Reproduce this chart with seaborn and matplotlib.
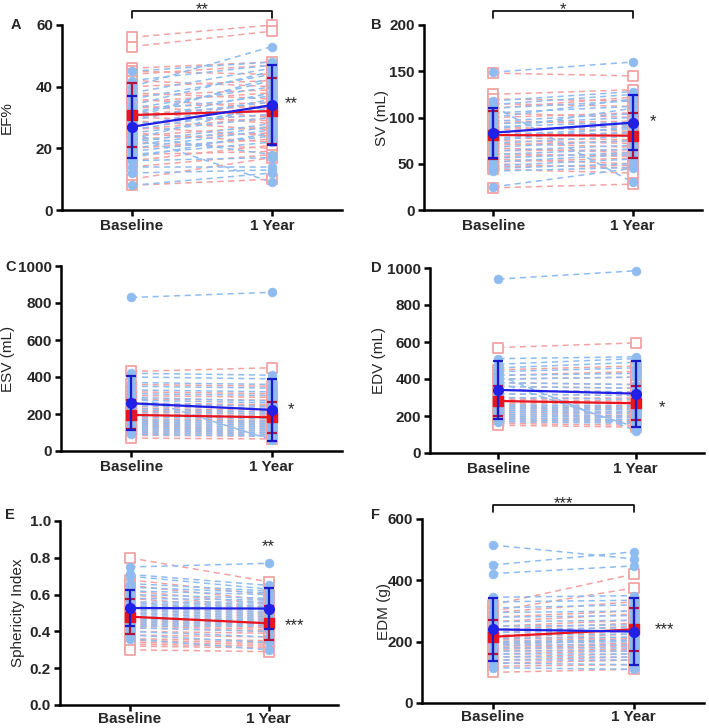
import numpy as np
import pandas as pd
import matplotlib
matplotlib.use("Agg")
import matplotlib.pyplot as plt
import matplotlib.transforms as mtransforms
import seaborn as sns

# ---------------- data ----------------
timepoints = ["Baseline", "1 Year"]

# Panel A: EF%
red_base_A = [56, 53, 46, 45, 44, 42, 40, 38, 37, 36, 35, 34, 33, 32, 31, 30, 29, 28, 27, 26, 25, 24, 23, 22, 20, 18, 16, 14, 10, 8]
red_1y_A = [60, 58, 48, 44, 47, 40, 42, 36, 39, 33, 38, 30, 35, 28, 34, 29, 26, 31, 24, 30, 22, 27, 25, 20, 23, 19, 21, 18, 17, 10]
blue_base_A = [45, 42, 40, 38, 36, 34, 33, 32, 31, 30, 29, 28, 27, 26, 25, 24, 23, 22, 21, 20, 19, 18, 17, 16, 14, 12, 8, 24, 30]
blue_1y_A = [48, 47, 53, 46, 44, 45, 40, 37, 42, 35, 38, 31, 36, 33, 30, 9, 34, 28, 27, 26, 24, 22, 25, 17, 14, 13, 12, 18, 43]
red_mean_A, red_sd_A = [30.8, 32.1], [10.5, 10.6]
blue_mean_A, blue_sd_A = [27.0, 34.0], [10.0, 12.9]

# Panel B: SV (mL)
red_base_B = [148, 125, 120, 115, 110, 105, 100, 97, 94, 90, 87, 84, 81, 78, 75, 72, 70, 67, 64, 61, 58, 55, 52, 50, 47, 44, 24]
red_1y_B = [145, 130, 118, 112, 122, 100, 105, 92, 96, 85, 90, 80, 83, 76, 72, 68, 75, 62, 65, 58, 60, 50, 56, 45, 48, 40, 28]
blue_base_B = [149, 118, 114, 110, 105, 100, 96, 93, 90, 87, 84, 81, 78, 75, 72, 68, 64, 60, 56, 52, 48, 45, 42, 25, 112]
blue_1y_B = [160, 128, 125, 118, 112, 120, 104, 100, 95, 110, 92, 88, 84, 90, 80, 75, 70, 66, 62, 60, 55, 50, 46, 45, 30]
red_mean_B, red_sd_B = [81.0, 80.4], [26.0, 24.0]
blue_mean_B, blue_sd_B = [83.6, 94.4], [27.0, 29.5]

# Panel C: ESV (mL)
red_base_C = [430, 360, 320, 300, 280, 260, 250, 240, 230, 220, 210, 200, 195, 185, 175, 165, 155, 145, 135, 125, 115, 105, 95, 85, 70]
red_1y_C = [450, 350, 310, 290, 275, 250, 245, 230, 220, 210, 200, 190, 185, 175, 165, 160, 150, 140, 130, 120, 110, 100, 90, 80, 65]
blue_base_C = [830, 420, 400, 370, 350, 330, 310, 290, 275, 260, 245, 230, 215, 200, 185, 170, 160, 150, 140, 130, 120, 110, 100, 90, 300]
blue_1y_C = [858, 410, 390, 360, 340, 320, 300, 270, 260, 240, 230, 210, 200, 185, 175, 160, 150, 140, 130, 120, 110, 100, 90, 80, 60]
red_mean_C, red_sd_C = [195, 182], [78, 83]
blue_mean_C, blue_sd_C = [258, 222], [146, 167]

# Panel D: EDV (mL)
red_base_D = [570, 450, 420, 400, 380, 360, 340, 320, 300, 290, 280, 270, 260, 250, 240, 230, 220, 210, 200, 190, 180, 170, 160, 150]
red_1y_D = [595, 470, 440, 410, 370, 350, 330, 310, 300, 280, 270, 265, 250, 240, 235, 220, 210, 200, 195, 180, 175, 165, 150, 140]
blue_base_D = [940, 510, 480, 460, 440, 420, 400, 380, 360, 340, 320, 300, 280, 260, 250, 240, 230, 220, 210, 200, 190, 180, 170, 420, 380]
blue_1y_D = [985, 520, 510, 490, 460, 430, 410, 370, 350, 330, 310, 290, 270, 255, 245, 235, 225, 215, 200, 190, 180, 170, 160, 120, 140]
red_mean_D, red_sd_D = [281, 269], [81, 92]
blue_mean_D, blue_sd_D = [341, 321], [157, 178]

# Panel E: Sphericity Index
red_base_E = [0.80, 0.68, 0.65, 0.62, 0.60, 0.58, 0.56, 0.54, 0.52, 0.50, 0.48, 0.47, 0.46, 0.45, 0.44, 0.43, 0.42, 0.40, 0.38, 0.36, 0.35, 0.34, 0.33, 0.32, 0.30]
red_1y_E = [0.67, 0.60, 0.57, 0.55, 0.53, 0.52, 0.50, 0.49, 0.48, 0.47, 0.46, 0.45, 0.44, 0.43, 0.42, 0.41, 0.40, 0.39, 0.37, 0.35, 0.34, 0.33, 0.32, 0.31, 0.29]
blue_base_E = [0.75, 0.71, 0.70, 0.66, 0.64, 0.62, 0.60, 0.58, 0.56, 0.55, 0.54, 0.53, 0.52, 0.51, 0.50, 0.49, 0.48, 0.47, 0.46, 0.45, 0.44, 0.43, 0.42, 0.40, 0.38, 0.36]
blue_1y_E = [0.77, 0.65, 0.63, 0.62, 0.61, 0.60, 0.58, 0.57, 0.56, 0.55, 0.54, 0.53, 0.52, 0.51, 0.50, 0.49, 0.48, 0.47, 0.46, 0.45, 0.44, 0.43, 0.40, 0.37, 0.34, 0.30]
red_mean_E, red_sd_E = [0.480, 0.444], [0.094, 0.093]
blue_mean_E, blue_sd_E = [0.527, 0.524], [0.100, 0.112]

# Panel F: EDM (g)
red_base_F = [320, 300, 295, 280, 265, 250, 240, 230, 220, 210, 205, 200, 195, 190, 185, 180, 175, 170, 160, 150, 140, 130, 120, 100]
red_1y_F = [420, 375, 330, 300, 290, 270, 260, 250, 240, 235, 225, 215, 210, 205, 195, 190, 185, 175, 170, 160, 150, 140, 125, 110]
blue_base_F = [515, 450, 422, 345, 330, 310, 295, 280, 265, 250, 240, 230, 220, 210, 200, 195, 190, 180, 170, 160, 150, 140, 130, 115]
blue_1y_F = [470, 493, 447, 350, 335, 320, 300, 285, 270, 255, 245, 235, 225, 215, 205, 200, 190, 180, 170, 160, 150, 140, 125, 110]
red_mean_F, red_sd_F = [216, 240], [56, 70]
blue_mean_F, blue_sd_F = [240, 233], [104, 108]

panel_letters = ["A", "B", "C", "D", "E", "F"]
y_labels = ["EF%", "SV (mL)", "ESV (mL)", "EDV (mL)", "Sphericity Index", "EDM (g)"]
y_ticks = [[0, 20, 40, 60], [0, 50, 100, 150, 200], [0, 200, 400, 600, 800, 1000],
           [0, 200, 400, 600, 800, 1000], [0.0, 0.2, 0.4, 0.6, 0.8, 1.0], [0, 200, 400, 600]]
y_tick_labels = [["0", "20", "40", "60"], ["0", "50", "100", "150", "200"],
                 ["0", "200", "400", "600", "800", "1000"], ["0", "200", "400", "600", "800", "1000"],
                 ["0.0", "0.2", "0.4", "0.6", "0.8", "1.0"], ["0", "200", "400", "600"]]
bracket_text = ["**", "*", None, None, None, "***"]
side_marks = [[("**", 1.14, 34.5)], [("*", 1.15, 96)], [("*", 1.14, 222)], [("*", 1.19, 243)],
              [("**", 1.0, 0.86), ("***", 1.19, 0.43)], [("***", 1.22, 240)]]

# ---------------- style ----------------
sns.set_style("ticks")
plt.rcParams["font.family"] = ["Liberation Sans", "DejaVu Sans"]

PINK = "#F3A2A4"
LBLUE = "#8FBCF0"
RED = "#E8141E"
RED_ERR = "#B0143C"
BLUE = "#2020E6"
BLUE_ERR = "#1A1AC8"

W, H = 709, 728
fig = plt.figure(figsize=(W / 100, H / 100), dpi=100)

# axes boxes in pixels: left, top, right, bottom
boxes = [(62, 25, 342, 210), (424, 25, 702, 210), (61, 266, 342, 451),
         (430, 268, 704, 453), (60, 521, 338, 705), (422, 519, 704, 703)]
# x position (axes fraction) of the right edge of each rotated y label
ylabel_x = [-0.171, -0.126, -0.164, -0.161, -0.126, -0.11]
letter_pos = [(16, 25), (376, 25), (11, 267), (376, 268), (10, 515), (376, 515)]
xtick_pad = [2, 2, 2, 2, 0.3, 0.3]

groups = {
    "A": (red_base_A, red_1y_A, blue_base_A, blue_1y_A, red_mean_A, red_sd_A, blue_mean_A, blue_sd_A),
    "B": (red_base_B, red_1y_B, blue_base_B, blue_1y_B, red_mean_B, red_sd_B, blue_mean_B, blue_sd_B),
    "C": (red_base_C, red_1y_C, blue_base_C, blue_1y_C, red_mean_C, red_sd_C, blue_mean_C, blue_sd_C),
    "D": (red_base_D, red_1y_D, blue_base_D, blue_1y_D, red_mean_D, red_sd_D, blue_mean_D, blue_sd_D),
    "E": (red_base_E, red_1y_E, blue_base_E, blue_1y_E, red_mean_E, red_sd_E, blue_mean_E, blue_sd_E),
    "F": (red_base_F, red_1y_F, blue_base_F, blue_1y_F, red_mean_F, red_sd_F, blue_mean_F, blue_sd_F),
}


def long_df(base, one):
    n = len(base)
    return pd.DataFrame({
        "sid": list(range(n)) * 2,
        "t": [0] * n + [1] * n,
        "v": list(base) + list(one),
    })


for i, key in enumerate(panel_letters):
    l, t, r, b = boxes[i]
    ax = fig.add_axes([l / W, 1 - b / H, (r - l) / W, (b - t) / H])
    rb, r1, bb, b1, rm, rs, bm, bs = groups[key]
    dred = long_df(rb, r1)
    dblue = long_df(bb, b1)

    sns.lineplot(data=dred, x="t", y="v", units="sid", estimator=None, color=PINK,
                 linewidth=1.1, linestyle=(0, (4, 3)), ax=ax, legend=False, zorder=1)
    sns.lineplot(data=dblue, x="t", y="v", units="sid", estimator=None, color=LBLUE,
                 linewidth=1.1, linestyle=(0, (4, 3)), ax=ax, legend=False, zorder=1)
    sns.scatterplot(data=dred, x="t", y="v", marker="s", s=42, color="white",
                    edgecolor=PINK, linewidth=1.3, ax=ax, legend=False, zorder=2, clip_on=False)
    sns.scatterplot(data=dblue, x="t", y="v", marker="o", s=40, color=LBLUE,
                    edgecolor=LBLUE, linewidth=0.5, ax=ax, legend=False, zorder=3, clip_on=False)

    xs = [0, 1]
    ax.errorbar(xs, rm, yerr=rs, color=RED, ecolor=RED_ERR, marker="s", markersize=7,
                linewidth=1.6, elinewidth=1.6, capsize=3.5, capthick=1.6, zorder=5, clip_on=False)
    ax.errorbar(xs, bm, yerr=bs, color=BLUE, ecolor=BLUE_ERR, marker="o", markersize=7,
                linewidth=1.6, elinewidth=1.6, capsize=3.5, capthick=1.6, zorder=6, clip_on=False)

    yt = y_ticks[i]
    ax.set_xlim(-0.5, 1.5)
    ax.set_ylim(yt[0], yt[-1])
    ax.set_xticks(xs)
    ax.set_xticklabels(timepoints, fontsize=11, fontweight="bold")
    ax.set_yticks(yt)
    ax.set_yticklabels(y_tick_labels[i], fontsize=11, fontweight="bold")
    ax.set_xlabel("")
    ax.set_ylabel(y_labels[i], fontsize=11)
    ax.yaxis.set_label_coords(ylabel_x[i], 0.5)
    sns.despine(ax=ax)
    for s in ["left", "bottom"]:
        ax.spines[s].set_linewidth(1.8)
        ax.spines[s].set_color("black")
    ax.tick_params(axis="y", direction="out", length=4.5, width=1.8, color="black", pad=2)
    ax.tick_params(axis="x", direction="out", length=4.5, width=1.8, color="black", pad=xtick_pad[i])

    # significance bracket
    if bracket_text[i]:
        trans = mtransforms.blended_transform_factory(ax.transData, ax.transAxes)
        y_top = 1 + 14 / (b - t)
        y_drop = 1 + 7 / (b - t)
        y_txt = 1 + 23 / (b - t)
        ax.plot([0, 0, 1, 1], [y_drop, y_top, y_top, y_drop], color="black", lw=1.2,
                transform=trans, clip_on=False)
        ax.text(0.5, y_txt, bracket_text[i], transform=trans, ha="center", va="top",
                fontsize=12, clip_on=False)
    for txt, xx, yy in side_marks[i]:
        ax.text(xx, yy, txt, ha="center", va="center", fontsize=12, clip_on=False)

    lx, ly = letter_pos[i]
    fig.text(lx / W, 1 - ly / H, key, fontsize=10.5, fontweight="bold", ha="center", va="center")

fig.savefig("out.png", dpi=100)
